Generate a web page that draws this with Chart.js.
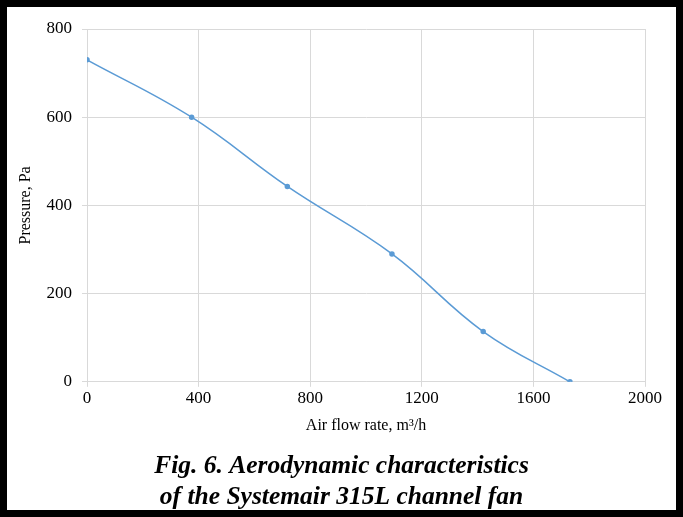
<!DOCTYPE html>
<html>
<head>
<meta charset="utf-8">
<script src="https://cdn.jsdelivr.net/npm/chart.js@4"></script>
<style>
    html, body { margin: 0; padding: 0; background: #fff; }
    #wrap { width: 683px; height: 517px; box-sizing: border-box; border: 7px solid #000; position: relative; }
    #fanChart { display: block; }
</style>
</head>
<body>
<div id="wrap"><canvas id="fanChart" width="669" height="503"></canvas></div>
<script>
// Fan curve
const flowRate = [0, 375, 718, 1093, 1420, 1731];
const pressure = [730, 600, 443, 290, 114, 0];
const xTicks = [0, 400, 800, 1200, 1600, 2000];
const yTicks = [0, 200, 400, 600, 800];
const caption = ['Fig. 6. Aerodynamic characteristics', 'of the Systemair 315L channel fan'];

const serif = 'Liberation Serif, Times New Roman, serif';
const gridColor = '#d9d9d9';

const ctx = document.getElementById('fanChart');
new Chart(ctx, {
    type: 'scatter',
    data: {
        datasets: [{
            data: flowRate.map((x, i) => ({ x: x, y: pressure[i] })),
            showLine: true,
            borderColor: '#5b9bd5',
            backgroundColor: '#5b9bd5',
            borderWidth: 1.5,
            pointRadius: 2,
            pointHoverRadius: 2,
            tension: 0.4
        }]
    },
    options: {
        responsive: false,
        animation: false,
        layout: { padding: { left: 0, right: 0, top: 22, bottom: 0 } },
        plugins: {
            legend: { display: false },
            tooltip: { enabled: false },
            title: {
                display: true,
                position: 'bottom',
                text: caption,
                color: '#000',
                font: { family: serif, size: 25.5, weight: 'bold', style: 'italic', lineHeight: 1.18 },
                // caption sits a touch low in the original
                padding: { top: 16, bottom: -2 }
            }
        },
        scales: {
            x: {
                type: 'linear',
                min: 0,
                max: 2000,
                afterBuildTicks: s => { s.ticks = xTicks.map(v => ({ value: v })); },
                afterFit: s => { s.height = 54; },
                grid: { color: gridColor, tickLength: 5 },
                border: { color: gridColor },
                ticks: {
                    color: '#000',
                    padding: 2,
                    maxRotation: 0,
                    font: { family: serif, size: 17 },
                    callback: v => String(v)
                },
                title: {
                    display: true,
                    text: 'Air flow rate, m³/h',
                    color: '#000',
                    font: { family: serif, size: 16 },
                    padding: { top: 0, bottom: 0 }
                }
            },
            y: {
                type: 'linear',
                min: 0,
                max: 800,
                afterBuildTicks: s => { s.ticks = yTicks.map(v => ({ value: v })); },
                afterFit: s => { s.width = 80; },
                grid: { color: gridColor, tickLength: 5 },
                border: { color: gridColor },
                ticks: {
                    color: '#000',
                    padding: 10,
                    font: { family: serif, size: 17 },
                    callback: v => String(v)
                },
                title: {
                    display: true,
                    text: 'Pressure, Pa',
                    color: '#000',
                    font: { family: serif, size: 16 },
                    padding: { top: 9, bottom: 0 }
                }
            },
            // empty right-hand spacer so the caption stays centred on the page
            spacer: {
                type: 'linear',
                position: 'right',
                min: 0,
                max: 800,
                afterFit: s => { s.width = 31; },
                grid: { display: false, drawOnChartArea: false },
                border: { display: false },
                ticks: { display: false }
            }
        }
    }
});
</script>
</body>
</html>
